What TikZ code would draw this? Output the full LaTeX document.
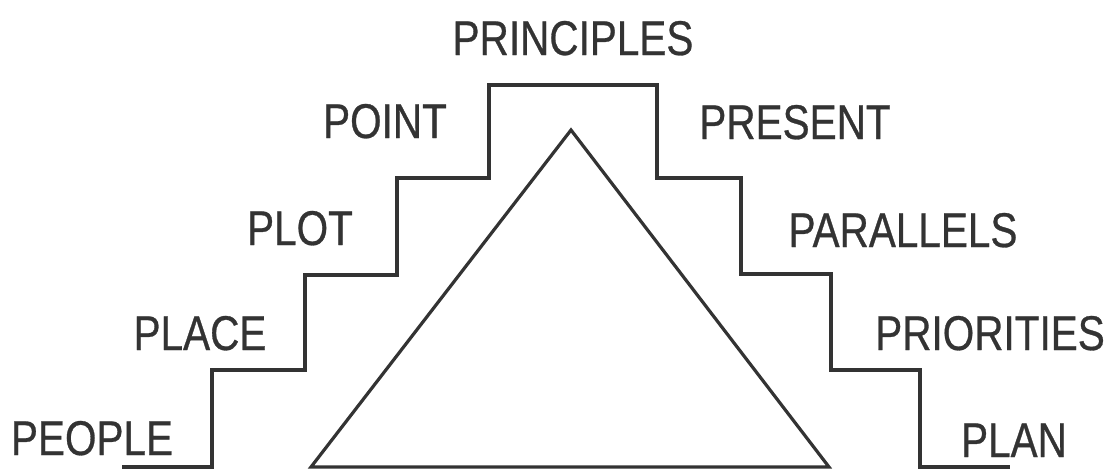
\documentclass[tikz,border=0pt]{standalone}
\usepackage{fontspec}
\setmainfont{Liberation Sans}[FakeStretch=0.83,FakeBold=0.6]
\begin{document}
\begin{tikzpicture}[x=0.5pt,y=-0.5pt,
    ink/.style={draw=black!80, line width=1.6pt, line join=miter},
    word/.style={inner sep=0pt, anchor=base, text=black!80, font=\fontsize{24.4}{28}\selectfont}]
    \useasboundingbox (0,0) rectangle (1114,468);

    % Draw the steps
    \draw[ink] (122,467) -- (212,467) -- (212,370) -- (305,370) -- (305,275)
        -- (397,275) -- (397,178) -- (489,178) -- (489,85) -- (657,85)
        -- (657,178) -- (741,178) -- (741,274) -- (831,274) -- (831,370)
        -- (920,370) -- (920,467) -- (1010,467);

    % Draw the triangle
    \draw[ink] (311,467) -- (571,130) -- (829,467) -- cycle;

    % Left side labels
    \node[word] (people) at (92,455) {PEOPLE};
    \node[word] (place) at (200,350) {PLACE};
    \node[word] (plot) at (300,245) {PLOT};
    \node[word] (point) at (385,138) {POINT};

    % Top label
    \node[word] (principles) at (573,55) {PRINCIPLES};

    % Right side labels
    \node[word] (present) at (795,139) {PRESENT};
    \node[word] (parallels) at (903,247) {PARALLELS};
    \node[word] (priorities) at (990,350) {PRIORITIES};
    \node[word] (plan) at (1014,457) {PLAN};
\end{tikzpicture}
\end{document}
